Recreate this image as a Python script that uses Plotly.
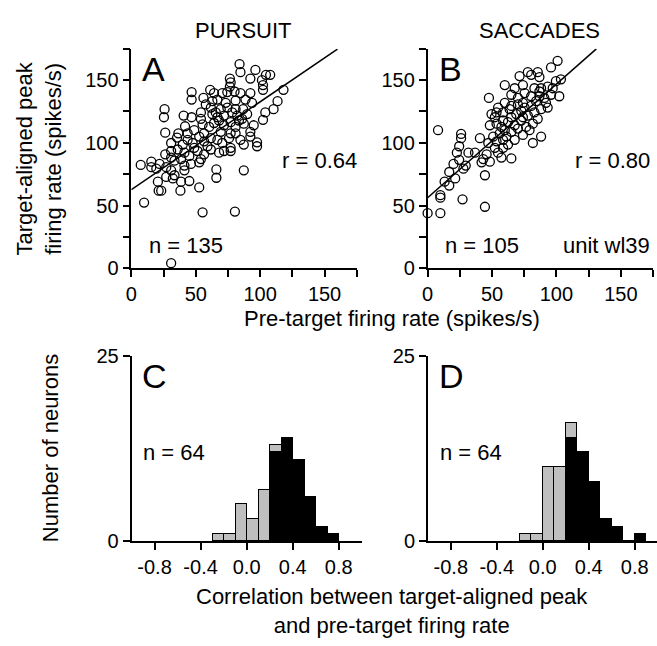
import plotly.graph_objects as go

FONT = "Liberation Sans, Arial, Helvetica, sans-serif"
W, H = 657, 646

# ---------------- data: panel A (pursuit) ----------------
pursuit_pre = [
    84.0, 84.7, 96.3, 104.5, 107.8,
    76.5, 77.1, 76.5, 92.4, 101.4, 102.2, 102.2, 118.1, 46.8, 61.2, 64.2, 74.5, 80.1, 84.7, 92.4, 70.6,
    46.8, 56.0, 66.8, 62.9, 88.6, 93.7, 113.5, 73.2, 80.9,
    25.8, 25.3, 40.6, 46.8, 54.0, 62.9, 66.8, 69.4, 74.5, 78.3, 82.2, 86.0, 89.9, 104.0, 110.4, 61.7,
    102.2, 41.7, 36.5, 26.3, 55.3, 60.4, 64.2, 68.1, 71.9, 77.1, 80.9, 87.3, 92.4, 83.5, 48.8, 56.5, 69.4, 77.1,
    35.5, 43.7, 47.6, 52.7, 56.5, 61.7, 66.8, 70.6, 75.8, 84.7, 87.3, 92.4, 97.6, 97.6, 39.9, 30.9,
    26.3, 30.9, 36.0, 41.2, 45.0, 51.4, 56.5, 61.7, 68.1, 71.9, 77.1, 30.9, 38.6, 54.0, 77.1,
    7.3, 15.5, 15.5, 21.9, 27.1, 33.5, 30.9, 41.2, 46.3, 52.7, 41.2, 66.0, 87.3, 19.4,
    20.6, 32.2, 38.6, 45.0, 66.0, 27.1, 33.5,
    21.2, 23.2, 38.1, 52.7,
    9.9, 55.3, 80.4, 30.9,
    57.8, 65.5, 71.9, 80.9, 86.8, 54.0, 43.7, 59.1, 48.8, 80.9, 95.0,
]
pursuit_peak = [
    162.7, 156.3, 158.1, 154.2, 154.2,
    151.2, 148.1, 144.8, 151.2, 149.9, 146.0, 142.2, 142.2, 140.4, 142.2, 139.6, 140.4, 140.9, 139.6, 139.6, 139.6,
    134.5, 135.8, 134.5, 133.2, 134.5, 131.9, 133.2, 131.9, 133.7,
    126.8, 120.4, 121.7, 120.4, 124.2, 122.9, 120.4, 126.8, 128.1, 124.2, 121.7, 119.1, 122.9, 124.2, 126.8, 128.1,
    118.3, 113.2, 107.6, 108.1, 114.7, 112.7, 115.8, 117.8, 114.0, 116.5, 112.7, 115.3, 108.8, 117.8, 110.1, 107.6, 108.8, 107.6,
    104.2, 102.4, 99.9, 105.0, 101.2, 103.7, 102.4, 99.9, 103.7, 102.4, 98.6, 105.0, 100.4, 97.3, 98.6, 99.9,
    90.9, 93.5, 94.7, 92.2, 89.6, 93.5, 90.9, 94.7, 92.2, 93.5, 93.5, 88.3, 87.1, 87.1, 96.0,
    82.4, 85.0, 80.6, 83.2, 80.6, 85.8, 78.1, 81.9, 83.2, 84.5, 78.1, 78.8, 78.1, 79.4,
    69.1, 71.7, 69.1, 69.6, 72.2, 72.9, 74.2,
    61.9, 61.9, 61.9, 64.5,
    52.4, 44.7, 45.3, 4.2,
    130.6, 124.2, 121.7, 126.8, 126.8, 119.1, 107.6, 97.3, 96.0, 107.6, 114.0,
]

# ---------------- data: panel B (saccades) ----------------
saccade_pre = [
    100.9, 95.8, 71.4, 77.8, 85.5, 86.8, 80.4,
    99.6, 103.5, 59.9, 82.9, 88.1, 67.6, 74.0, 93.2, 97.1,
    47.6, 65.0, 70.1, 75.3, 80.4, 86.8, 90.6, 95.8, 102.2, 59.9, 84.2, 91.9, 74.0,
    49.6, 54.7, 58.6, 63.7, 68.8, 72.7, 77.8, 82.9, 88.1, 93.2, 52.2, 65.0, 80.4,
    53.5, 57.3, 62.4, 67.6, 72.7, 76.5, 81.7, 85.5, 8.1, 59.9, 70.1, 79.1, 48.3,
    26.0, 40.6, 50.9, 56.0, 61.2, 65.0, 74.0, 81.7, 88.1, 26.0, 67.6, 53.5,
    24.5, 22.7, 36.8, 45.8, 52.2, 58.6, 62.4, 43.2, 31.7, 54.7,
    24.5, 20.1, 29.6, 48.3, 65.0, 41.9, 16.8, 27.8, 57.3,
    44.5, 13.2, 16.8, 21.4,
    9.9, 9.9, 27.1, 44.5, 0.0, 9.9,
    75.3, 70.1, 58.6, 65.0, 86.8, 53.5, 74.0, 58.6, 47.1,
]
saccade_peak = [
    165.3, 160.1, 153.2, 156.3, 156.3, 152.4, 154.2,
    149.1, 150.6, 146.0, 143.5, 143.5, 143.5, 146.0, 144.7, 143.5,
    135.8, 138.3, 135.8, 139.6, 137.1, 137.1, 135.8, 138.3, 137.1, 131.9, 133.2, 131.9, 131.9,
    122.9, 128.1, 124.2, 126.8, 122.9, 125.5, 121.7, 124.2, 126.8, 128.1, 120.4, 120.4, 129.4,
    115.3, 112.7, 116.5, 114.0, 117.8, 112.7, 115.3, 119.1, 110.1, 110.1, 111.4, 110.1, 114.0,
    107.1, 103.7, 105.0, 107.6, 105.0, 108.8, 106.3, 99.9, 105.0, 103.7, 102.4, 101.2,
    97.3, 92.2, 92.2, 90.9, 96.0, 96.0, 98.6, 87.1, 92.2, 92.2,
    86.5, 83.2, 81.9, 85.0, 87.6, 84.5, 76.8, 79.4, 88.3,
    74.2, 69.1, 66.0, 71.7,
    58.3, 56.3, 55.0, 49.1, 44.0, 44.0,
    128.1, 130.6, 117.8, 129.4, 140.9, 124.2, 120.4, 102.4, 99.9,
]

# regression lines (intercept, slope, x extent)
fit_pursuit = (62.7, 0.70, 0.0, 160.0)
fit_saccade = (56.3, 0.905, 0.0, 131.0)

# ---------------- data: histograms C and D ----------------
bin_centers_c = [-0.25, -0.15, -0.05, 0.05, 0.15, 0.25, 0.35, 0.45, 0.55, 0.65, 0.75]
c_sig = [0, 0, 0, 0, 0, 12, 14, 11, 6, 2, 1]
c_nonsig = [1, 1, 5, 3, 7, 1, 0, 0, 0, 0, 0]

bin_centers_d = [-0.15, -0.05, 0.05, 0.15, 0.25, 0.35, 0.45, 0.55, 0.65, 0.75, 0.85]
d_sig = [0, 0, 0, 0, 14, 12, 8, 3, 2, 0, 1]
d_nonsig = [1, 1, 10, 10, 2, 0, 0, 0, 0, 0, 0]

scatter_ticks = [0, 25, 50, 75, 100, 125, 150, 175]
scatter_ticktext = ["0", "", "50", "", "100", "", "150", ""]
hist_xticks = [-0.8, -0.4, 0.0, 0.4, 0.8]
hist_xticktext = ["-0.8", "-0.4", "0.0", "0.4", "0.8"]
hist_yticks = [0, 25]


def px(x):
    return x / W


def py(y):
    return 1 - y / H


fig = go.Figure()

# scatter panels
for xs, ys, fit, xa, ya in [
    (pursuit_pre, pursuit_peak, fit_pursuit, "x", "y"),
    (saccade_pre, saccade_peak, fit_saccade, "x2", "y2"),
]:
    fig.add_trace(go.Scatter(
        x=xs, y=ys, mode="markers", xaxis=xa, yaxis=ya, cliponaxis=False,
        marker=dict(symbol="circle-open", size=9, color="black", line=dict(width=1.3, color="black")),
        hoverinfo="skip",
    ))
    b0, b1, x0, x1 = fit
    fig.add_trace(go.Scatter(
        x=[x0, x1], y=[b0 + b1 * x0, b0 + b1 * x1], mode="lines", xaxis=xa, yaxis=ya,
        cliponaxis=False, line=dict(color="black", width=1.5), hoverinfo="skip",
    ))

# histogram panels
for centers, sig, nonsig, xa, ya in [
    (bin_centers_c, c_sig, c_nonsig, "x3", "y3"),
    (bin_centers_d, d_sig, d_nonsig, "x4", "y4"),
]:
    fig.add_trace(go.Bar(
        x=centers, y=sig, width=0.1, xaxis=xa, yaxis=ya,
        marker=dict(color="black", line=dict(color="black", width=1)), hoverinfo="skip",
    ))
    fig.add_trace(go.Bar(
        x=centers, y=nonsig, width=0.1, xaxis=xa, yaxis=ya,
        marker=dict(color="#bfbfbf", line=dict(color="black", width=1)), hoverinfo="skip",
    ))

tickfont = dict(family=FONT, size=20, color="black")
common = dict(
    showgrid=False, zeroline=False, showline=True, linecolor="black", linewidth=1.6,
    ticks="outside", ticklen=7, tickwidth=1.5, tickcolor="black", tickfont=tickfont,
    fixedrange=True,
)

y_sc = [py(266.5), py(39)]
y_hi = [py(549), py(357)]

fig.update_layout(
    width=W, height=H, margin=dict(l=0, r=0, t=0, b=0),
    paper_bgcolor="white", plot_bgcolor="white", showlegend=False,
    barmode="stack", bargap=0,
    font=dict(family=FONT, color="black"),
    xaxis=dict(domain=[px(126.5), px(354)], range=[0, 175], anchor="y",
               tickvals=scatter_ticks, ticktext=scatter_ticktext, **common),
    yaxis=dict(domain=y_sc, range=[0, 175], anchor="x",
               tickvals=scatter_ticks, ticktext=scatter_ticktext, **common),
    xaxis2=dict(domain=[px(425.5), px(653)], range=[0, 175], anchor="y2",
                tickvals=scatter_ticks, ticktext=scatter_ticktext, **common),
    yaxis2=dict(domain=y_sc, range=[0, 175], anchor="x2",
                tickvals=scatter_ticks, ticktext=scatter_ticktext, **common),
    xaxis3=dict(domain=[px(126.7), px(359)], range=[-1, 1], anchor="y3",
                tickvals=hist_xticks, ticktext=hist_xticktext, **common),
    yaxis3=dict(domain=y_hi, range=[0, 25], anchor="x3", tickvals=hist_yticks, **common),
    xaxis4=dict(domain=[px(425.7), 1.0], range=[-1, 0.994], anchor="y4",
                tickvals=hist_xticks, ticktext=hist_xticktext, **common),
    yaxis4=dict(domain=y_hi, range=[0, 25], anchor="x4", tickvals=hist_yticks, **common),
)


def ann(text, x, y, size=22, xanchor="center", yanchor="middle", angle=0):
    fig.add_annotation(
        text=text, x=px(x), y=py(y), xref="paper", yref="paper", showarrow=False,
        xanchor=xanchor, yanchor=yanchor, textangle=angle,
        font=dict(family=FONT, size=size, color="black"),
    )


ann("PURSUIT", 240, 20)
ann("SACCADES", 538, 20)
ann("A", 135, 60, size=34, xanchor="left")
ann("B", 435, 60, size=34, xanchor="left")
ann("C", 135, 378, size=34, xanchor="left")
ann("D", 435, 378, size=34, xanchor="left")
ann("r = 0.64", 356, 155, xanchor="right")
ann("r = 0.80", 652, 155, xanchor="right")
ann("n = 135", 142, 243, xanchor="left")
ann("n = 105", 441, 243, xanchor="left")
ann("unit wl39", 652, 243, xanchor="right")
ann("n = 64", 136, 457, xanchor="left")
ann("n = 64", 436, 457, xanchor="left")
ann("Pre-target firing rate (spikes/s)", 390, 318)
ann("Target-aligned peak<br>firing rate (spikes/s)", 33, 153, angle=-90)
ann("Number of neurons", 45, 453, angle=-90)
ann("Correlation between target-aligned peak<br>and pre-target firing rate", 390, 621)

fig.write_html("out.html")
